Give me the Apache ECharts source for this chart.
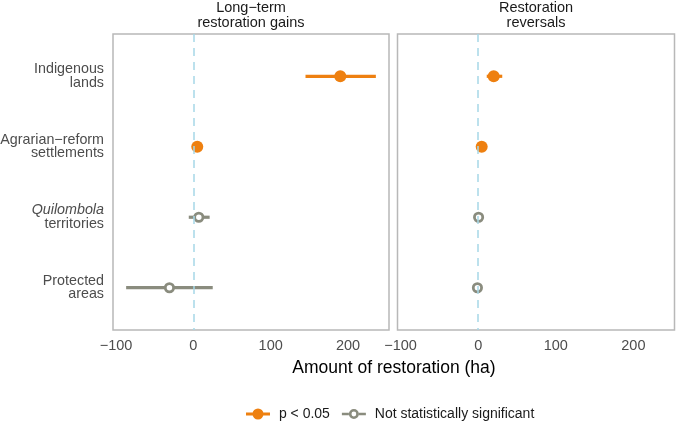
<!DOCTYPE html>
<html>
<head>
<meta charset="utf-8">
<script src="https://cdn.jsdelivr.net/npm/echarts@6/dist/echarts.min.js"></script>
<style>
html,body{margin:0;padding:0;background:#fff;}
#chart{width:676px;height:422px;}
</style>
</head>
<body>
<div id="chart"></div>
<script>
// ---------- data ----------
const categories = ['Indigenous lands', 'Agrarian−reform settlements', 'Quilombola territories', 'Protected areas'];
const italicWords = ['Quilombola'];
const panelTitles = ['Long−term\nrestoration gains', 'Restoration\nreversals'];
const xTickValues = [-100, 0, 100, 200];
const legendLabels = ['p < 0.05', 'Not statistically significant'];

// Long-term restoration gains
const gainsEstimate = [190, 5, 7, -31];
const gainsLower    = [145, 2, -6, -87];
const gainsUpper    = [236, 9, 21, 25];
const gainsSignificant = [true, true, false, false];

// Restoration reversals
const reversalsEstimate = [20, 4.5, 0.5, -1];
const reversalsLower    = [11, 2, -1, -2.5];
const reversalsUpper    = [31, 7, 2, 0.5];
const reversalsSignificant = [true, true, false, false];

const xMin = -104, xMax = 253;
const yMin = 0.4, yMax = 4.6;

// ---------- style ----------
const ORANGE = '#EE8010';
const GREY = '#8A8C7E';
const FONT = "'Liberation Sans', Arial, sans-serif";

const panels = [
  {est: gainsEstimate, lo: gainsLower, hi: gainsUpper, sig: gainsSignificant},
  {est: reversalsEstimate, lo: reversalsLower, hi: reversalsUpper, sig: reversalsSignificant}
];

const grids = [
  {left: 113, top: 34, width: 276, height: 296},
  {left: 397.5, top: 34, width: 277, height: 296}
].map(g => Object.assign(g, {show: true, borderColor: '#b8b8b8', borderWidth: 1.5, backgroundColor: '#fff',
                            containLabel: false, outerBoundsMode: 'none'}));

function fmtX(v) {
  if (xTickValues.indexOf(v) < 0) return '';
  return String(v).replace('-', '−');
}
function fmtY(v) {
  const i = Math.round(v);
  if (Math.abs(v - i) > 1e-6 || i < 1 || i > categories.length) return '';
  const name = categories[i - 1];
  const sp = name.indexOf(' ');
  let first = name.slice(0, sp), rest = name.slice(sp + 1);
  if (italicWords.indexOf(first) >= 0) first = '{it|' + first + '}';
  return first + '\n' + rest;
}

const xAxes = grids.map((g, i) => ({
  type: 'value', gridIndex: i, min: xMin, max: xMax,
  axisLine: {show: false}, axisTick: {show: false}, splitLine: {show: false},
  axisLabel: {formatter: fmtX, color: '#4d4d4d', fontSize: 14.5, fontFamily: FONT, margin: 8,
              showMinLabel: false, showMaxLabel: false}
}));
const yAxes = grids.map((g, i) => ({
  type: 'value', gridIndex: i, min: yMin, max: yMax, inverse: true, splitNumber: 4,
  axisLine: {show: false}, axisTick: {show: false}, splitLine: {show: false},
  axisLabel: i === 0 ? {
    formatter: fmtY, color: '#4d4d4d', fontSize: 14.3, fontFamily: FONT, margin: 9, lineHeight: 13.5,
    showMinLabel: false, showMaxLabel: false,
    rich: {it: {fontStyle: 'italic', color: '#4d4d4d', fontSize: 14.3, fontFamily: FONT, lineHeight: 13.5}}
  } : {show: false}
}));

const series = [];
panels.forEach((p, gi) => {
  // reference line at zero
  series.push({
    type: 'scatter', name: 'zero' + gi, xAxisIndex: gi, yAxisIndex: gi, data: [], silent: true, z: 1,
    markLine: {
      silent: true, symbol: ['none', 'none'], label: {show: false}, animation: false,
      lineStyle: {type: [8, 6], color: '#a6d8e8', width: 1.5},
      data: [{xAxis: 0}]
    }
  });
  [true, false].forEach(sigFlag => {
    const color = sigFlag ? ORANGE : GREY;
    const bars = [], pts = [];
    p.est.forEach((e, k) => {
      if (p.sig[k] !== sigFlag) return;
      bars.push([p.lo[k], p.hi[k], k + 1]);
      pts.push([e, k + 1]);
    });
    series.push({
      type: 'custom', name: (sigFlag ? 'sig' : 'ns') + ' ci ' + gi, xAxisIndex: gi, yAxisIndex: gi, z: 2,
      encode: {x: [0, 1], y: 2}, data: bars, silent: true,
      renderItem: function (params, api) {
        const y = api.value(2);
        const a = api.coord([api.value(0), y]);
        const b = api.coord([api.value(1), y]);
        return {type: 'line', shape: {x1: a[0], y1: a[1], x2: b[0], y2: b[1]},
                style: {stroke: color, lineWidth: 3.2, lineCap: 'butt'}};
      }
    });
    series.push({
      type: 'scatter', name: sigFlag ? legendLabels[0] : legendLabels[1], xAxisIndex: gi, yAxisIndex: gi, z: 3,
      data: pts, symbol: 'circle',
      symbolSize: sigFlag ? 12 : 8.3,
      itemStyle: sigFlag ? {color: ORANGE, opacity: 1} : {color: '#fff', borderColor: GREY, borderWidth: 2.8, opacity: 1}
    });
  });
});

const iconFilled = 'path://M0,3.5 H24 V6.5 H0 Z M6.5,5 A5.5,5.5 0 1,1 17.5,5 A5.5,5.5 0 1,1 6.5,5 Z';
const iconOpen = 'path://M0,3.75 H7 V6.25 H0 Z M17,3.75 H24 V6.25 H17 Z M7,5 A5,5 0 1,1 17,5 A5,5 0 1,1 7,5 Z M9.6,5 A2.4,2.4 0 1,0 14.4,5 A2.4,2.4 0 1,0 9.6,5 Z';

const option = {
  backgroundColor: '#fff',
  animation: false,
  textStyle: {fontFamily: FONT},
  title: [
    {text: panelTitles[0], left: 251, top: 0, textAlign: 'center', padding: 0,
     textStyle: {fontSize: 14.5, fontWeight: 'normal', color: '#1a1a1a', lineHeight: 15, fontFamily: FONT}},
    {text: panelTitles[1], left: 536, top: 0, textAlign: 'center', padding: 0,
     textStyle: {fontSize: 14.5, fontWeight: 'normal', color: '#1a1a1a', lineHeight: 15, fontFamily: FONT}},
    {text: 'Amount of restoration (ha)', left: 394, top: 359, textAlign: 'center', padding: 0,
     textStyle: {fontSize: 17.5, fontWeight: 'normal', color: '#000', fontFamily: FONT}}
  ],
  legend: {
    left: 246, top: 407, itemWidth: 24, itemHeight: 11, itemGap: 12, padding: 0,
    selectedMode: false,
    formatter: n => ' ' + n,
    textStyle: {fontSize: 14, color: '#1a1a1a', fontFamily: FONT},
    data: [
      {name: legendLabels[0], icon: iconFilled, itemStyle: {color: ORANGE, borderWidth: 0}},
      {name: legendLabels[1], icon: iconOpen, itemStyle: {color: GREY, borderWidth: 0}}
    ]
  },
  grid: grids,
  xAxis: xAxes,
  yAxis: yAxes,
  series: series
};

const chart = echarts.init(document.getElementById('chart'), null, {renderer: 'canvas'});
chart.setOption(option);
</script>
</body>
</html>
